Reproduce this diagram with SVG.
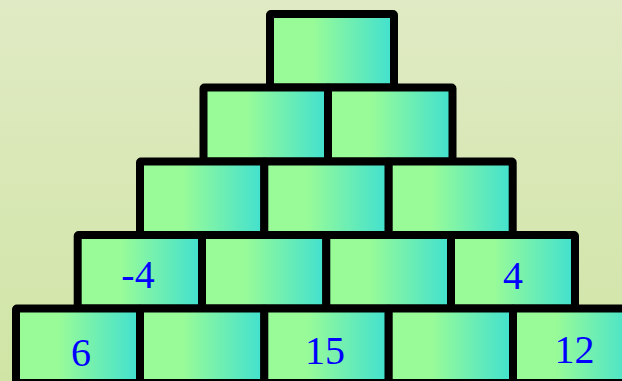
<svg xmlns="http://www.w3.org/2000/svg" width="622" height="381" viewBox="0 0 622 381">
<defs>
<linearGradient id="bg" x1="0" y1="0" x2="0" y2="1">
<stop offset="0" stop-color="#e0eac4"/>
<stop offset="1" stop-color="#d0e5a5"/>
</linearGradient>
<linearGradient id="cell" x1="0" y1="0" x2="1" y2="0">
<stop offset="0" stop-color="#98fb98"/>
<stop offset="0.35" stop-color="#98fb98"/>
<stop offset="1" stop-color="#40e0d0"/>
</linearGradient>
<style>
.c{fill:url(#cell);stroke:#000;stroke-width:8;}
.t{font-family:"Liberation Serif","Times New Roman",serif;font-size:40px;fill:#0000ff;text-anchor:middle;}
</style>
</defs>
<rect x="0" y="0" width="622" height="381" fill="url(#bg)"/>
<g id="row1">
<g id="c1-1"><rect class="c" x="270" y="14" width="124" height="73.5" rx="1"/></g>
</g>
<g id="row2">
<g id="c2-1"><rect class="c" x="203.5" y="87.5" width="124.5" height="74" rx="1"/></g>
<g id="c2-2"><rect class="c" x="328" y="87.5" width="124.5" height="74" rx="1"/></g>
</g>
<g id="row3">
<g id="c3-1"><rect class="c" x="140" y="161.5" width="124.3" height="74" rx="1"/></g>
<g id="c3-2"><rect class="c" x="264.3" y="161.5" width="124.4" height="74" rx="1"/></g>
<g id="c3-3"><rect class="c" x="388.7" y="161.5" width="124" height="74" rx="1"/></g>
</g>
<g id="row4">
<g id="c4-1"><rect class="c" x="77.7" y="235" width="124.3" height="73.5" rx="1"/><text class="t" x="138" y="288">-4</text></g>
<g id="c4-2"><rect class="c" x="202" y="235" width="124.3" height="73.5" rx="1"/></g>
<g id="c4-3"><rect class="c" x="326.3" y="235" width="124.7" height="73.5" rx="1"/></g>
<g id="c4-4"><rect class="c" x="451" y="235" width="124" height="73.5" rx="1"/><text class="t" x="513" y="289">4</text></g>
</g>
<g id="row5">
<g id="c5-1"><rect class="c" x="16" y="308.5" width="124" height="74.5" rx="1"/><text class="t" x="81" y="366">6</text></g>
<g id="c5-2"><rect class="c" x="140" y="308.5" width="124.3" height="74.5" rx="1"/></g>
<g id="c5-3"><rect class="c" x="264.3" y="308.5" width="124.4" height="74.5" rx="1"/><text class="t" x="325" y="364">15</text></g>
<g id="c5-4"><rect class="c" x="388.7" y="308.5" width="124.3" height="74.5" rx="1"/></g>
<g id="c5-5"><rect class="c" x="513" y="308.5" width="124" height="74.5" rx="1"/><text class="t" x="574.5" y="363">12</text></g>
</g>
<g id="connectors"/>
</svg>
